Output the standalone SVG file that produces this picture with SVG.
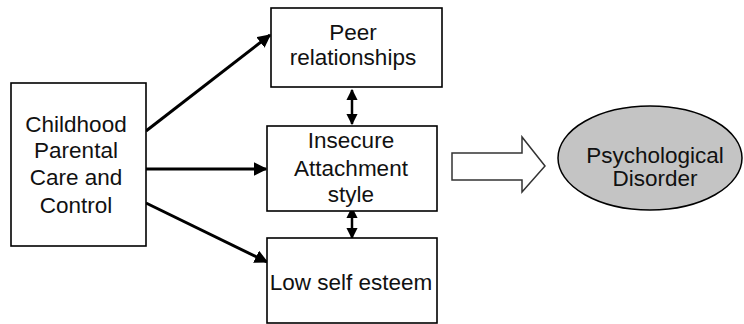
<svg xmlns="http://www.w3.org/2000/svg" width="744" height="324" viewBox="0 0 744 324">
<style>
.box{fill:#fff;stroke:#000;stroke-width:1.6}
.t{font-family:"Liberation Sans",Arial,sans-serif;font-size:22.5px;fill:#111;text-anchor:middle}
.c{stroke:#000;stroke-width:3;fill:none}
</style>
<defs>
<marker id="ah" viewBox="0 0 10 10" refX="9" refY="5" markerWidth="4.5" markerHeight="4.5" orient="auto-start-reverse" markerUnits="strokeWidth">
<path d="M0,0 L10,5 L0,10 z" fill="#000"/>
</marker>
</defs>
<rect width="744" height="324" fill="#fff"/>
<g id="connectors">
<line class="c" x1="146" y1="131" x2="270" y2="35" marker-end="url(#ah)"/>
<line class="c" x1="146" y1="169" x2="266" y2="169" marker-end="url(#ah)"/>
<line class="c" x1="146" y1="203" x2="267" y2="262" marker-end="url(#ah)"/>
<line class="c" x1="352" y1="90" x2="352" y2="124" marker-start="url(#ah)" marker-end="url(#ah)" style="stroke-width:2.5"/>
<line class="c" x1="352" y1="208" x2="352" y2="238" marker-start="url(#ah)" marker-end="url(#ah)" style="stroke-width:2.5"/>
<path d="M452,153 L522,153 L522,137 L545,166 L522,192 L522,180 L452,180 Z" fill="#fff" stroke="#333" stroke-width="1.5"/>
</g>
<g id="childhood">
<rect class="box" x="11" y="83" width="135" height="163"/>
<text class="t" x="76" y="132">Childhood</text>
<text class="t" x="76" y="158">Parental</text>
<text class="t" x="76" y="185">Care and</text>
<text class="t" x="76" y="213">Control</text>
</g>
<g id="peer">
<rect class="box" x="271" y="8" width="171" height="79"/>
<text class="t" x="353" y="40">Peer</text>
<text class="t" x="353" y="65">relationships</text>
</g>
<g id="insecure">
<rect class="box" x="267" y="126" width="170" height="85"/>
<text class="t" x="351" y="148">Insecure</text>
<text class="t" x="351" y="176">Attachment</text>
<text class="t" x="351" y="202">style</text>
</g>
<g id="low">
<rect class="box" x="267" y="238" width="170" height="85"/>
<text class="t" x="351" y="290">Low self esteem</text>
</g>
<g id="disorder">
<ellipse cx="650" cy="158" rx="92" ry="52" fill="#c4c4c4" stroke="#000" stroke-width="1.5"/>
<text class="t" x="655" y="163">Psychological</text>
<text class="t" x="655" y="186">Disorder</text>
</g>
</svg>
